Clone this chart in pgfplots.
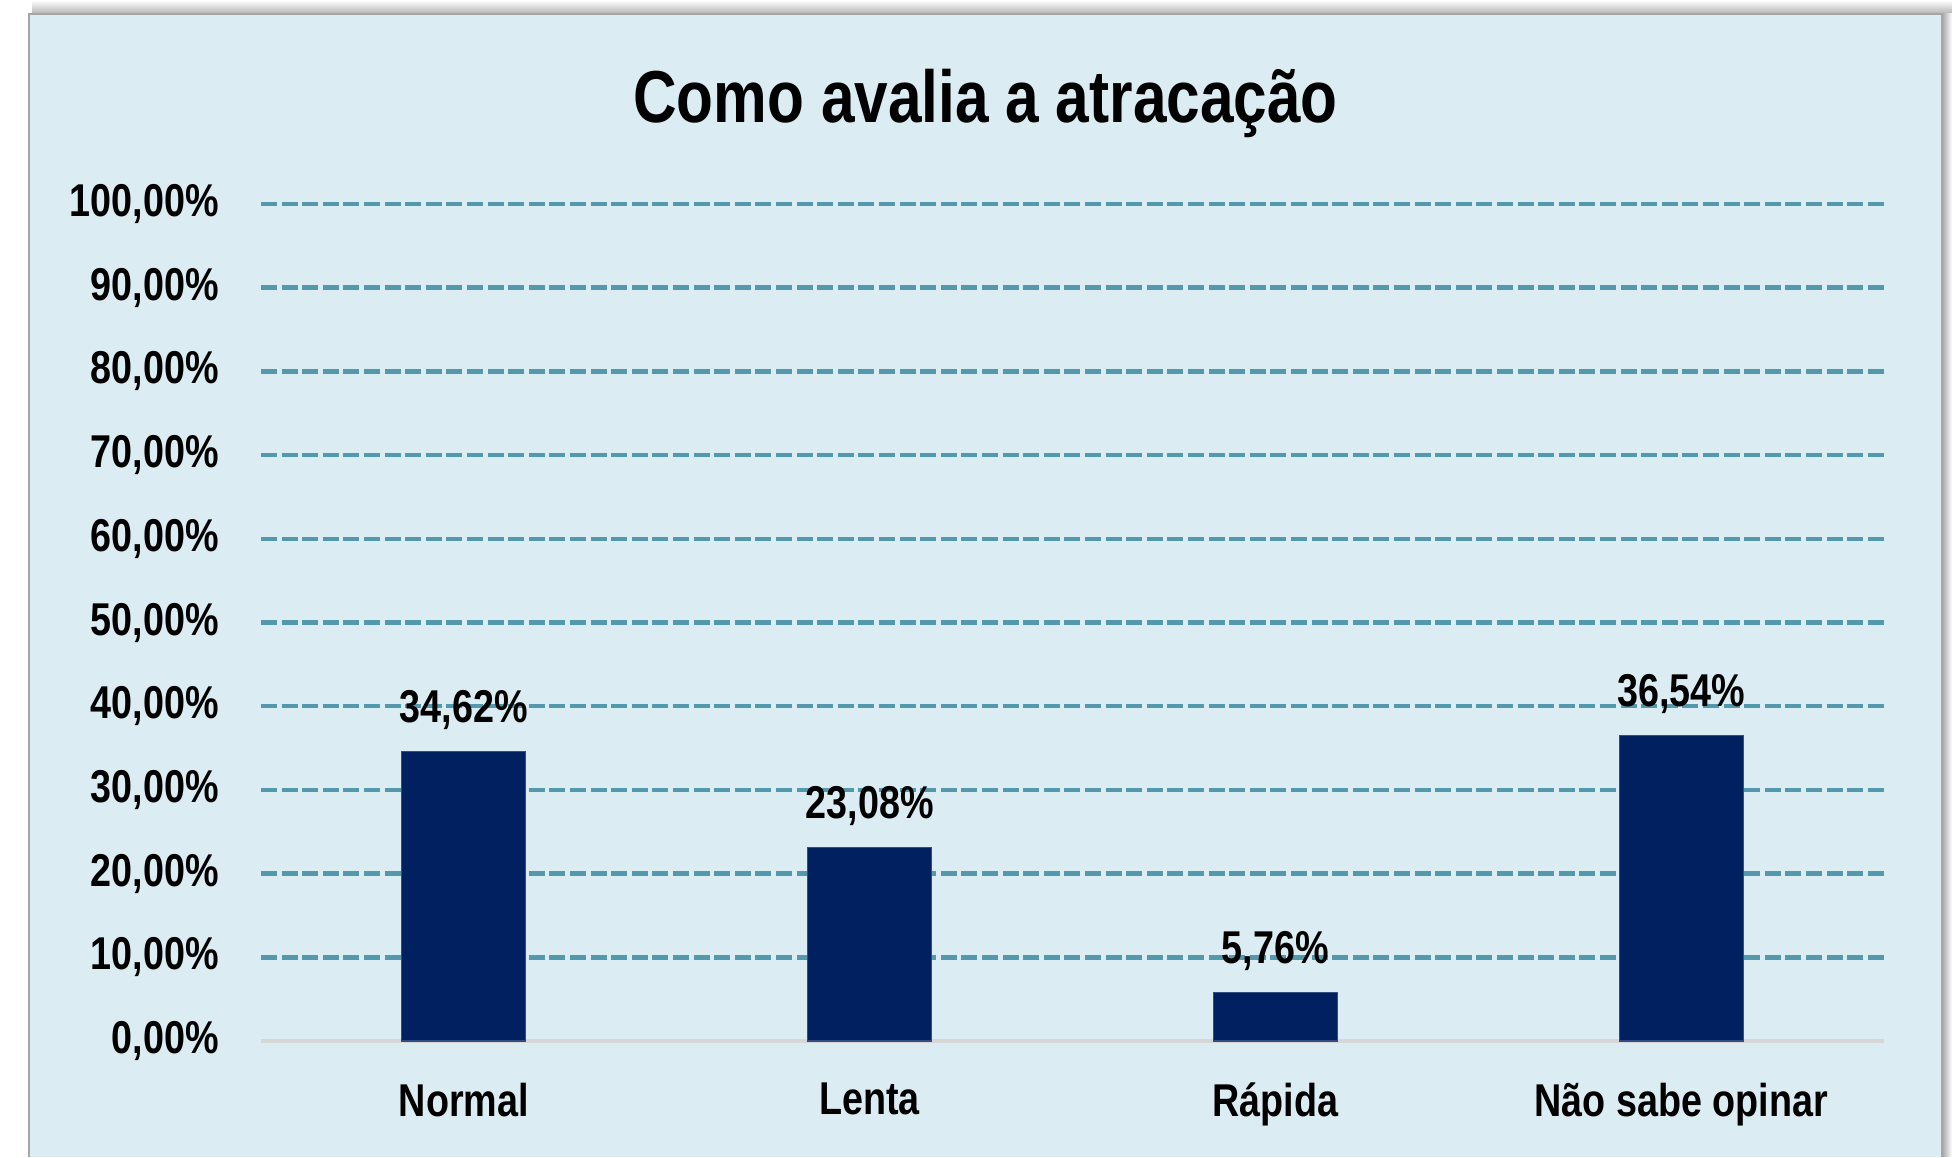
\documentclass[border=0pt]{standalone}
\usepackage{pgfplots}
\pgfplotsset{compat=1.18}
\usepackage{fontspec}
\setmainfont{Liberation Sans}[FakeStretch=0.82]
\definecolor{panel}{RGB}{219,236,243}
\definecolor{gridc}{RGB}{84,152,174}
\definecolor{barc}{RGB}{0,32,96}
\definecolor{basec}{RGB}{215,215,215}
\begin{document}
\begin{tikzpicture}
\fill[white] (0,0) rectangle (488pt,289.25pt);
\shade[top color=white, bottom color=black!30] (8pt,285.75pt) rectangle (488pt,289.25pt);
\shade[left color=black!35, right color=white] (485.5pt,0) rectangle (488pt,285.75pt);
\fill[panel] (7.25pt,0) rectangle (485.5pt,285.75pt);
\draw[black!35, line width=0.5pt] (7.25pt,0) -- (7.25pt,285.75pt) -- (485.5pt,285.75pt) -- (485.5pt,0);
\node[font=\fontsize{18.4}{22}\selectfont\bfseries] at (246.4pt,263.5pt) {Como avalia a atracação};
\begin{axis}[
  at={(65.25pt,29pt)}, anchor=south west,
  scale only axis, width=405.75pt, height=209.25pt,
  xmin=-0.5, xmax=3.5, ymin=0, ymax=100,
  ybar, bar width=31pt,
  axis line style={draw=none},
  major tick length=0pt,
  xtick={0,1,2,3},
  xticklabels={Normal,Lenta,Rápida,Não sabe opinar},
  ytick={0,10,...,100},
  yticklabels={{0,00\%},{10,00\%},{20,00\%},{30,00\%},{40,00\%},{50,00\%},{60,00\%},{70,00\%},{80,00\%},{90,00\%},{100,00\%}},
  ymajorgrids,
  grid style={gridc, line width=1.1pt, dash pattern=on 4pt off 1.15pt},
  tick label style={font=\fontsize{11.5}{13}\selectfont\bfseries},
  yticklabel style={xshift=-7pt},
  xticklabel style={yshift=-7pt},
  point meta=explicit symbolic,
  nodes near coords,
  every node near coord/.append style={font=\fontsize{11.5}{13}\selectfont\bfseries, yshift=2pt},
  clip=false,
]
\draw[basec, line width=0.9pt] (axis cs:-0.5,0) -- (axis cs:3.5,0);
\addplot[fill=barc, draw=barc!80!white, line width=0.3pt] coordinates {
  (0,34.62) [34,62\%]
  (1,23.08) [23,08\%]
  (2,5.76) [5,76\%]
  (3,36.54) [36,54\%]
};
\end{axis}
\end{tikzpicture}
\end{document}
